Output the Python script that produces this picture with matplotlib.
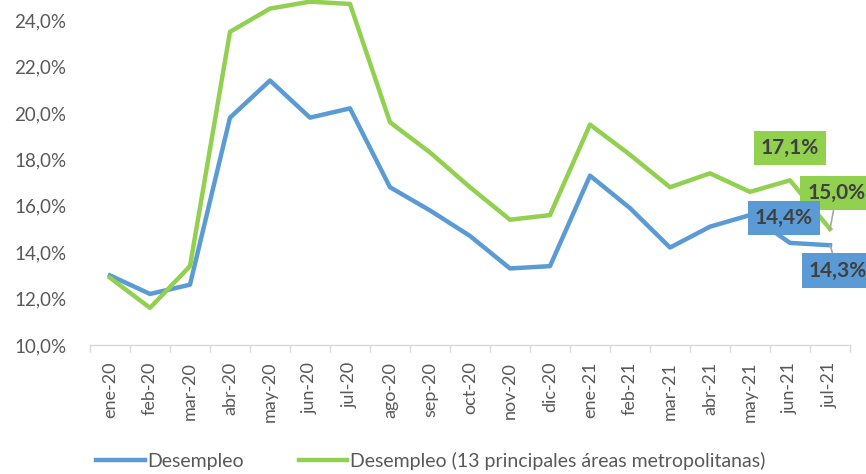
import matplotlib
matplotlib.use("Agg")
import matplotlib.pyplot as plt
from matplotlib.lines import Line2D

plt.rcParams['font.family'] = ['Lato', 'DejaVu Sans']

months = ["ene-20", "feb-20", "mar-20", "abr-20", "may-20", "jun-20", "jul-20",
          "ago-20", "sep-20", "oct-20", "nov-20", "dic-20", "ene-21", "feb-21",
          "mar-21", "abr-21", "may-21", "jun-21", "jul-21"]
desempleo = [13.0, 12.2, 12.6, 19.8, 21.4, 19.8, 20.2, 16.8, 15.8, 14.7, 13.3, 13.4,
             17.3, 15.9, 14.2, 15.1, 15.6, 14.4, 14.3]
desempleo_13 = [12.9, 11.6, 13.4, 23.5, 24.5, 24.8, 24.7, 19.6, 18.3, 16.8, 15.4, 15.6,
                19.5, 18.2, 16.8, 17.4, 16.6, 17.1, 15.0]
yticks = [10, 12, 14, 16, 18, 20, 22, 24]
series_names = ["Desempleo", "Desempleo (13 principales áreas metropolitanas)"]

blue = "#5B9BD5"
green = "#92D050"
gray_txt = "#595959"

fig = plt.figure(figsize=(8.66, 4.74), dpi=100)
ax = fig.add_axes([90/866, 1-345/474, 760/866, 345/474])

x = list(range(len(months)))
ax.plot(x, desempleo, color=blue, lw=3.2, solid_joinstyle='round', clip_on=False, zorder=3)
ax.plot(x, desempleo_13, color=green, lw=3.2, solid_joinstyle='round', clip_on=False, zorder=3)

ax.set_xlim(-0.5, len(months) - 0.5)
ax.set_ylim(10, 10 + 345/23.2)

ax.set_yticks(yticks)
ax.set_yticklabels([f"{v:.1f}%".replace(".", ",") for v in yticks], color=gray_txt, fontsize=13.5)
ax.tick_params(axis='y', length=0, pad=17)

ax.set_xticks(x)
ax.set_xticklabels(months, rotation=90, color=gray_txt, fontsize=13)
ax.set_xticks([i - 0.5 for i in range(len(months) + 1)], minor=True)
ax.tick_params(axis='x', which='major', length=0, pad=12)
ax.tick_params(axis='x', which='minor', length=5, color="#d9d9d9", width=1)

for s in ["top", "right", "left"]:
    ax.spines[s].set_visible(False)
ax.spines["bottom"].set_color("#d9d9d9")
ax.spines["bottom"].set_linewidth(1)

def label(ix, val, dx, dy, color, leader=False):
    txt = f"{val:.1f}%".replace(".", ",")
    ax.annotate(txt, xy=(ix, val), xytext=(ix + dx, val + dy),
                ha='center', va='center', fontsize=15, fontweight='bold', color="#404040",
                bbox=dict(boxstyle="square,pad=0.35", fc=color, ec='none'),
                arrowprops=(dict(arrowstyle='-', color="#a6a6a6", lw=1.2, shrinkA=0, shrinkB=0)
                            if leader else None),
                annotation_clip=False, zorder=5)

n = len(months)
label(n - 2, desempleo_13[-2], 0.0, 1.39, green)
label(n - 1, desempleo_13[-1], 0.17, 1.55, green, leader=True)
label(n - 2, desempleo[-2], -0.15, 1.07, blue)
label(n - 1, desempleo[-1], 0.2, -1.1, blue, leader=True)

handles = [Line2D([], [], color=blue, lw=3.2), Line2D([], [], color=green, lw=3.2)]
fig.legend(handles, series_names, loc='center left', bbox_to_anchor=(96/866, 1-461/474),
           ncol=2, frameon=False, fontsize=14, labelcolor=gray_txt,
           handlelength=2.5, handletextpad=0.15, columnspacing=2.8, borderaxespad=0,
           borderpad=0)

fig.savefig("out.png", dpi=100)
